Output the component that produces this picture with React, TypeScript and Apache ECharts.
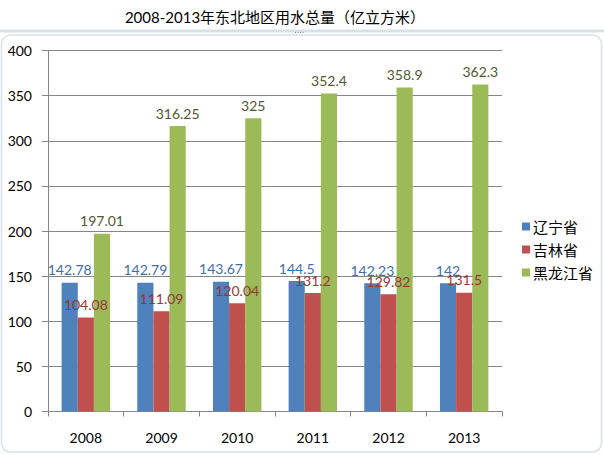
import React, { useEffect, useRef } from "react";
import * as echarts from "echarts";

const years = ["2008", "2009", "2010", "2011", "2012", "2013"];
const liaoning = [142.78, 142.79, 143.67, 144.5, 142.23, 142];
const jilin = [104.08, 111.09, 120.04, 131.2, 129.82, 131.5];
const heilongjiang = [197.01, 316.25, 325, 352.4, 358.9, 362.3];
const seriesNames = ["辽宁省", "吉林省", "黑龙江省"];
const barColors = ["#4f81bd", "#c0504d", "#9bbb59"];
const labelColors = ["#3f6fa8", "#953735", "#4f5a30"];

const FONT = "Lato, 'Noto Sans CJK SC', sans-serif";

export default function App() {
  const ref = useRef<HTMLDivElement>(null);
  useEffect(() => {
    if (!ref.current) return;
    const chart = echarts.init(ref.current, null, { renderer: "svg" });
    const data = [liaoning, jilin, heilongjiang];
    chart.setOption({
      animation: false,
      backgroundColor: "#ffffff",
      textStyle: { fontFamily: FONT },
      title: {
        text: "2008-2013年东北地区用水总量（亿立方米）",
        left: 270,
        top: 4,
        textAlign: "center",
        textStyle: { fontSize: 15, fontWeight: "normal", color: "#000", fontFamily: FONT },
      },
      graphic: [
        { type: "line", shape: { x1: 0, y1: 31, x2: 604, y2: 31 }, style: { stroke: "#d6e1e8", lineWidth: 3 }, silent: true },
        { type: "rect", shape: { x: 1.5, y: 35, width: 600, height: 417, r: 9 }, style: { fill: "none", stroke: "#d8e2ea", lineWidth: 1.5 }, silent: true },
        { type: "rect", shape: { x: 295, y: 32, width: 1, height: 1 }, style: { fill: "#888" }, silent: true },
        { type: "rect", shape: { x: 297.5, y: 32, width: 1, height: 1 }, style: { fill: "#888" }, silent: true },
        { type: "rect", shape: { x: 300, y: 32, width: 1, height: 1 }, style: { fill: "#888" }, silent: true },
        { type: "rect", shape: { x: 302.5, y: 32, width: 1, height: 1 }, style: { fill: "#888" }, silent: true },
      ],
      legend: {
        orient: "vertical",
        left: 517,
        top: 214,
        itemWidth: 8,
        itemHeight: 8,
        itemGap: 8,
        icon: "rect",
        textStyle: { fontSize: 15, color: "#000", fontFamily: FONT, padding: [0, 0, 0, -2] },
        data: seriesNames,
      },
      grid: { left: 48, right: 102, top: 50.5, bottom: 43.5, containLabel: false },
      xAxis: {
        type: "category",
        data: years,
        axisLine: { lineStyle: { color: "#868686" } },
        axisTick: { show: true, length: 5, lineStyle: { color: "#868686" } },
        axisLabel: { fontSize: 14, color: "#000", margin: 19, fontFamily: FONT },
      },
      yAxis: {
        type: "value",
        min: 0,
        max: 400,
        interval: 50,
        axisLine: { show: true, lineStyle: { color: "#868686" } },
        axisTick: { show: true, length: 6, lineStyle: { color: "#868686" } },
        axisLabel: { fontSize: 14, color: "#000", margin: 16, fontFamily: FONT },
        splitLine: { lineStyle: { color: "#868686", width: 1 } },
      },
      series: seriesNames.map((name, i) => ({
        name,
        type: "bar",
        data: data[i],
        barGap: "0%",
        barCategoryGap: "36%",
        itemStyle: { color: barColors[i] },
        label: {
          show: true,
          position: "top",
          distance: 6,
          fontSize: 14,
          color: labelColors[i],
          fontFamily: FONT,
        },
      })),
    });
    return () => chart.dispose();
  }, []);
  return <div ref={ref} style={{ width: 604, height: 455, position: "absolute", left: 0, top: 0 }} />;
}
